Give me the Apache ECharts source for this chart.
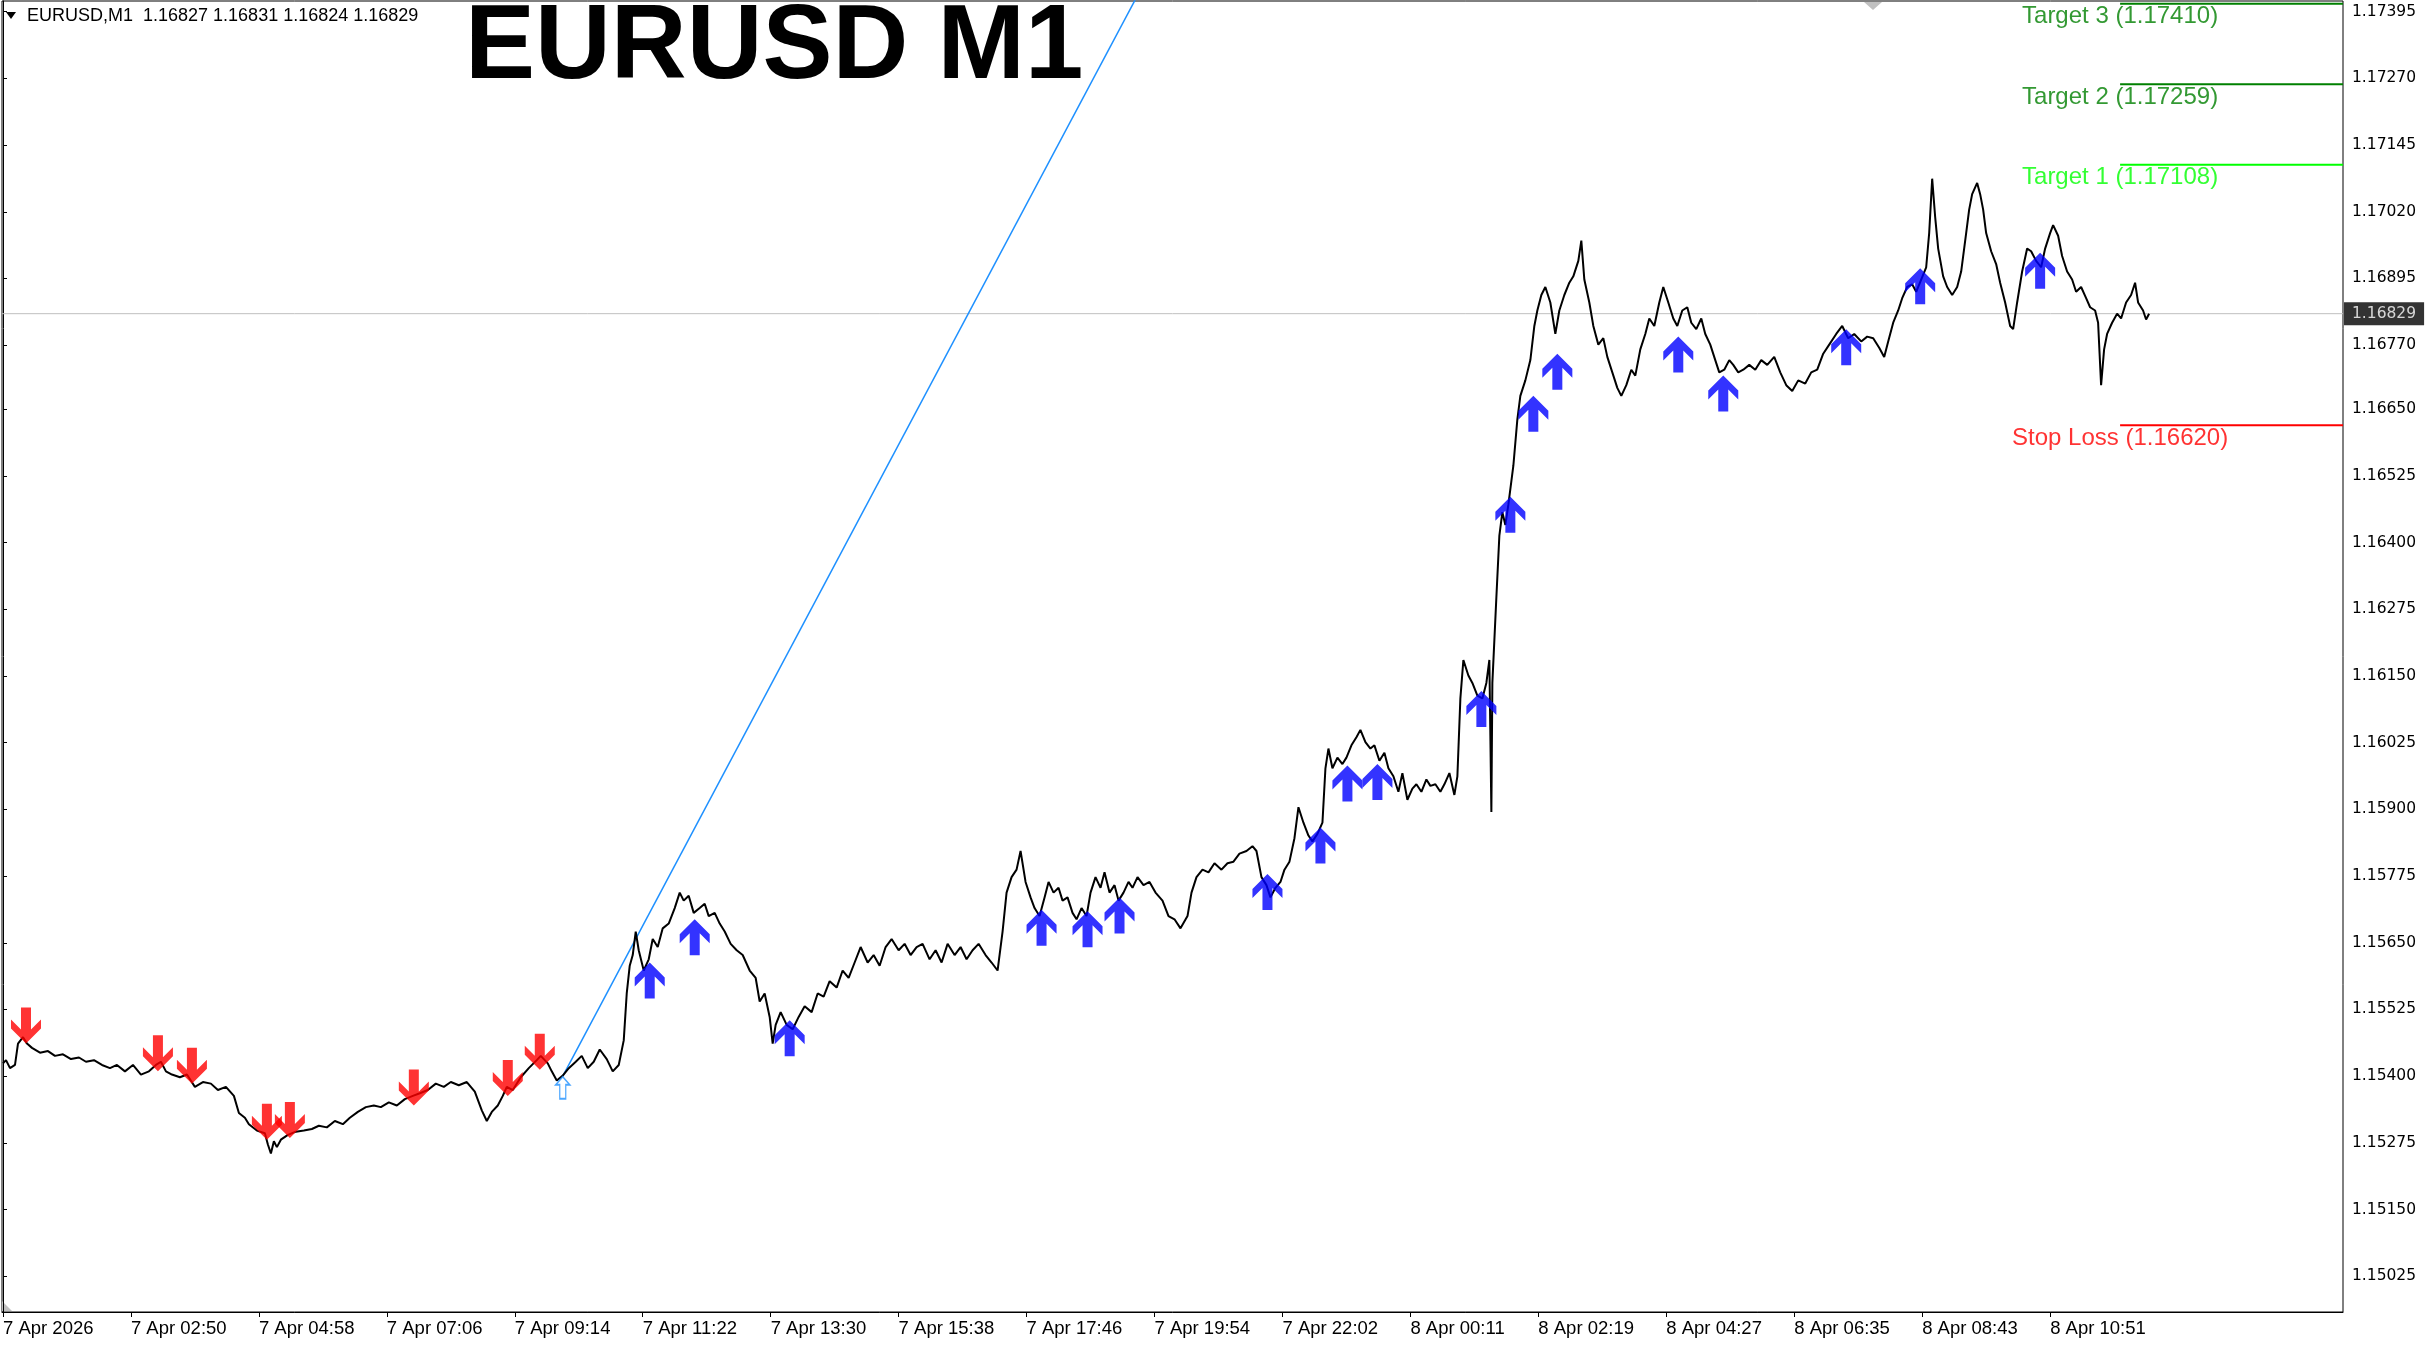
<!DOCTYPE html>
<html><head><meta charset="utf-8">
<script src="https://cdn.jsdelivr.net/npm/echarts@6/dist/echarts.min.js"></script>
<style>html,body{margin:0;padding:0;background:#fff;overflow:hidden}#c{width:2435px;height:1345px}</style>
</head><body><div id="c"></div>
<script>
// ---------- DATA ----------
const symbolName = 'EURUSD';
const timeframe = 'M1';
const headerOHLC = [1.16827, 1.16831, 1.16824, 1.16829];
const lastPrice = 1.16829;

// x axis: bar number (1 bar = 1 minute) and labels at those bars
const xTickBars = [0,128,256,384,512,640,768,896,1024,1152,1280,1408,1536,1664,1792,1920,2048];
const xTickLabels = ['7 Apr 2026','7 Apr 02:50','7 Apr 04:58','7 Apr 07:06','7 Apr 09:14','7 Apr 11:22','7 Apr 13:30','7 Apr 15:38','7 Apr 17:46','7 Apr 19:54','7 Apr 22:02','8 Apr 00:11','8 Apr 02:19','8 Apr 04:27','8 Apr 06:35','8 Apr 08:43','8 Apr 10:51'];
const yTickValues = [1.15025,1.15150,1.15275,1.15400,1.15525,1.15650,1.15775,1.15900,1.16025,1.16150,1.16275,1.16400,1.16525,1.16650,1.16770,1.16895,1.17020,1.17145,1.17270,1.17395];

// price trace: [bar, price]
const priceTrace = [[0,1.15424],[3,1.15430],[7,1.15415],[12,1.15421],[15,1.15461],[20,1.15473],[24,1.15461],[29,1.15453],[37,1.15444],[45,1.15447],[52,1.15438],[60,1.15441],[68,1.15432],[76,1.15435],[83,1.15427],[91,1.15430],[99,1.15421],[107,1.15415],[114,1.15421],[122,1.15409],[130,1.15421],[138,1.15403],[146,1.15409],[153,1.15421],[158,1.15427],[163,1.15409],[169,1.15403],[177,1.15398],[184,1.15403],[192,1.15380],[200,1.15389],[208,1.15386],[215,1.15374],[223,1.15380],[231,1.15363],[236,1.15331],[242,1.15322],[246,1.15310],[254,1.15298],[262,1.15293],[265,1.15272],[268,1.15255],[271,1.15278],[274,1.15267],[278,1.15281],[285,1.15290],[293,1.15296],[301,1.15298],[309,1.15301],[316,1.15307],[324,1.15304],[332,1.15316],[340,1.15310],[347,1.15322],[355,1.15333],[363,1.15342],[371,1.15345],[378,1.15342],[386,1.15351],[394,1.15345],[402,1.15357],[410,1.15363],[417,1.15368],[425,1.15374],[433,1.15386],[441,1.15380],[448,1.15389],[456,1.15383],[464,1.15389],[472,1.15371],[479,1.15336],[484,1.15316],[489,1.15333],[495,1.15345],[500,1.15363],[504,1.15380],[510,1.15374],[518,1.15398],[526,1.15415],[534,1.15430],[538,1.15438],[545,1.15424],[549,1.15409],[554,1.15392],[560,1.15401],[566,1.15415],[573,1.15427],[579,1.15438],[585,1.15415],[591,1.15427],[597,1.15450],[604,1.15432],[610,1.15409],[616,1.15421],[621,1.15467],[624,1.15555],[627,1.15607],[630,1.15627],[633,1.15671],[636,1.15636],[641,1.15598],[646,1.15619],[650,1.15657],[655,1.15642],[660,1.15677],[666,1.15686],[672,1.15715],[677,1.15744],[681,1.15729],[686,1.15738],[691,1.15706],[697,1.15715],[702,1.15723],[706,1.15700],[712,1.15706],[717,1.15686],[722,1.15671],[728,1.15648],[734,1.15636],[740,1.15627],[747,1.15598],[753,1.15584],[757,1.15540],[762,1.15555],[767,1.15511],[770,1.15461],[773,1.15496],[778,1.15520],[784,1.15496],[790,1.15488],[796,1.15511],[802,1.15531],[809,1.15520],[815,1.15555],[821,1.15549],[827,1.15578],[834,1.15566],[840,1.15598],[846,1.15584],[852,1.15613],[858,1.15642],[865,1.15613],[871,1.15627],[877,1.15607],[883,1.15642],[889,1.15657],[896,1.15636],[902,1.15648],[908,1.15627],[914,1.15642],[920,1.15648],[927,1.15619],[933,1.15636],[939,1.15613],[945,1.15648],[952,1.15627],[958,1.15642],[964,1.15619],[970,1.15636],[976,1.15648],[983,1.15627],[989,1.15613],[995,1.15598],[1000,1.15671],[1004,1.15744],[1009,1.15773],[1014,1.15787],[1018,1.15822],[1023,1.15764],[1028,1.15735],[1032,1.15715],[1037,1.15700],[1042,1.15735],[1046,1.15764],[1051,1.15744],[1056,1.15753],[1060,1.15729],[1065,1.15735],[1070,1.15706],[1074,1.15694],[1079,1.15715],[1084,1.15700],[1088,1.15744],[1093,1.15773],[1098,1.15753],[1102,1.15782],[1107,1.15744],[1112,1.15758],[1116,1.15729],[1121,1.15744],[1126,1.15764],[1130,1.15753],[1135,1.15773],[1141,1.15758],[1147,1.15764],[1153,1.15744],[1160,1.15729],[1166,1.15700],[1172,1.15694],[1178,1.15677],[1185,1.15700],[1189,1.15744],[1194,1.15773],[1200,1.15787],[1206,1.15782],[1212,1.15799],[1219,1.15787],[1225,1.15799],[1231,1.15802],[1237,1.15817],[1244,1.15822],[1250,1.15831],[1254,1.15822],[1259,1.15773],[1264,1.15758],[1268,1.15735],[1273,1.15753],[1278,1.15764],[1282,1.15787],[1287,1.15802],[1292,1.15846],[1296,1.15904],[1301,1.15875],[1306,1.15851],[1310,1.15840],[1315,1.15854],[1320,1.15875],[1323,1.15977],[1326,1.16014],[1330,1.15977],[1335,1.15997],[1340,1.15985],[1344,1.15997],[1349,1.16020],[1354,1.16035],[1358,1.16049],[1363,1.16026],[1368,1.16014],[1372,1.16020],[1377,1.15991],[1382,1.16006],[1386,1.15977],[1391,1.15962],[1396,1.15933],[1400,1.15968],[1405,1.15918],[1410,1.15939],[1414,1.15947],[1419,1.15933],[1424,1.15956],[1428,1.15944],[1433,1.15947],[1438,1.15933],[1442,1.15947],[1447,1.15968],[1452,1.15927],[1455,1.15962],[1458,1.16108],[1461,1.16180],[1466,1.16151],[1470,1.16137],[1475,1.16113],[1480,1.16108],[1484,1.16137],[1487,1.16180],[1489,1.15895],[1490,1.16137],[1494,1.16297],[1497,1.16413],[1500,1.16457],[1503,1.16433],[1506,1.16471],[1511,1.16544],[1515,1.16631],[1518,1.16675],[1523,1.16704],[1528,1.16742],[1532,1.16806],[1535,1.16835],[1539,1.16864],[1543,1.16879],[1548,1.16850],[1553,1.16791],[1557,1.16835],[1562,1.16864],[1567,1.16887],[1571,1.16899],[1576,1.16928],[1579,1.16966],[1582,1.16893],[1587,1.16850],[1591,1.16806],[1596,1.16771],[1601,1.16783],[1605,1.16748],[1610,1.16719],[1615,1.16690],[1619,1.16675],[1624,1.16695],[1629,1.16724],[1633,1.16713],[1638,1.16762],[1643,1.16791],[1647,1.16820],[1652,1.16806],[1657,1.16850],[1661,1.16879],[1666,1.16850],[1671,1.16820],[1675,1.16806],[1680,1.16835],[1685,1.16841],[1689,1.16812],[1694,1.16800],[1699,1.16820],[1703,1.16791],[1708,1.16771],[1713,1.16742],[1717,1.16719],[1722,1.16724],[1727,1.16742],[1731,1.16733],[1736,1.16719],[1741,1.16724],[1747,1.16733],[1753,1.16724],[1759,1.16742],[1765,1.16733],[1772,1.16748],[1778,1.16719],[1784,1.16695],[1790,1.16684],[1796,1.16704],[1803,1.16698],[1809,1.16719],[1815,1.16724],[1821,1.16754],[1827,1.16771],[1834,1.16791],[1840,1.16806],[1846,1.16783],[1852,1.16791],[1859,1.16777],[1865,1.16786],[1871,1.16783],[1877,1.16765],[1882,1.16748],[1886,1.16777],[1891,1.16812],[1896,1.16835],[1900,1.16858],[1905,1.16879],[1910,1.16884],[1914,1.16870],[1919,1.16893],[1924,1.16916],[1927,1.16980],[1930,1.17082],[1933,1.17010],[1936,1.16951],[1941,1.16899],[1945,1.16879],[1950,1.16864],[1955,1.16879],[1959,1.16908],[1964,1.16980],[1967,1.17024],[1970,1.17053],[1975,1.17074],[1978,1.17053],[1981,1.17024],[1984,1.16980],[1989,1.16946],[1994,1.16922],[1998,1.16887],[2003,1.16850],[2008,1.16806],[2011,1.16800],[2015,1.16850],[2020,1.16908],[2025,1.16951],[2029,1.16946],[2034,1.16928],[2039,1.16916],[2043,1.16951],[2048,1.16980],[2051,1.16995],[2056,1.16975],[2060,1.16937],[2065,1.16908],[2070,1.16893],[2074,1.16870],[2079,1.16879],[2084,1.16858],[2088,1.16841],[2093,1.16835],[2096,1.16812],[2099,1.16695],[2102,1.16762],[2105,1.16791],[2110,1.16812],[2115,1.16829],[2119,1.16820],[2124,1.16850],[2129,1.16864],[2133,1.16887],[2136,1.16850],[2141,1.16835],[2144,1.16818],[2147,1.16829]];

// signal arrows: [bar, price at arrow tip]
const sellSignals = [[23,1.15461],[155,1.15409],[189,1.15386],[264,1.15281],[287,1.15284],[411,1.15345],[505,1.15363],[537,1.15412]];
const buySignals = [[647,1.15613],[692,1.15694],[787,1.15505],[1039,1.15712],[1085,1.15709],[1117,1.15735],[1265,1.15779],[1318,1.15866],[1345,1.15982],[1375,1.15985],[1479,1.16122],[1508,1.16486],[1531,1.16675],[1555,1.16754],[1676,1.16786],[1721,1.16713],[1844,1.16800],[1918,1.16914],[2038,1.16943]];
const entrySignal = [[560,1.15399]];

// trend line (ray) through two points
const trendLine = [[560,1.15400],[1140,1.17443]];

// trade levels
const levelNames = ['Target 3','Target 2','Target 1','Stop Loss'];
const levelPrices = [1.17410,1.17259,1.17108,1.16620];
const levelStartBar = 2118;
const axisStartBar = -1;
const axisEndBar = 2341;

// ---------- STYLE ----------
const levelColors = ['#008000','#008000','#00ff00','#ff0000'];
const upArrow = 'path://M15,0 L30,15 L30,24 L20,14 L20,36 L10,36 L10,14 L0,24 L0,15 Z';
const downArrow = 'path://M10,0 L20,0 L20,22 L30,12 L30,21 L15,36 L0,21 L0,12 L10,22 Z';
const hollowUp = 'path://M7,0 L14,8 L10,8 L10,22 L4,22 L4,8 L0,8 Z';

const series = [];
series.push({
  type:'line', data:[[axisStartBar,lastPrice],[axisEndBar,lastPrice]], showSymbol:false, z:1, silent:true,
  lineStyle:{color:'#c0c0c0', width:1}
});
series.push({
  type:'scatter', data:[[axisEndBar,lastPrice]], symbolSize:0, z:9, silent:true, clip:false,
  label:{show:true, position:'right', distance:1, formatter: lastPrice.toFixed(5),
    backgroundColor:'#000', color:'#fff', padding:[4,8,3,8],
    fontFamily:'DejaVu Sans', fontSize:15.5}
});
series.push({
  type:'line', data: priceTrace, showSymbol:false, z:5, silent:true,
  lineStyle:{color:'#000', width:2}
});
series.push({
  type:'line', data: trendLine, showSymbol:false, z:4, silent:true, clip:true,
  lineStyle:{color:'#1e90ff', width:1.5}
});
levelPrices.forEach((p,i)=>{
  series.push({
    type:'line', data:[[levelStartBar,p],[axisEndBar,p]], showSymbol:false, z:3, silent:true,
    lineStyle:{color:levelColors[i], width:2}
  });
  series.push({
    type:'scatter', data:[[levelStartBar,p]], symbolSize:0, z:3, silent:true,
    label:{show:true, position:'bottom', distance:1, formatter: levelNames[i]+' ('+p.toFixed(5)+')',
      color:levelColors[i], fontFamily:'Liberation Sans', fontSize:24}
  });
});
series.push({
  type:'scatter', data: sellSignals, symbol: downArrow, symbolSize:[30,36], symbolOffset:[0,-18],
  itemStyle:{color:'#ff0000'}, z:7, silent:true
});
series.push({
  type:'scatter', data: buySignals, symbol: upArrow, symbolSize:[30,36], symbolOffset:[0,18],
  itemStyle:{color:'#0000ff'}, z:7, silent:true
});
series.push({
  type:'scatter', data: entrySignal, symbol: hollowUp, symbolSize:[14,22], symbolOffset:[0,11],
  itemStyle:{color:'#ffffff', borderColor:'#1e90ff', borderWidth:1.5}, z:7, silent:true
});

const chart = echarts.init(document.getElementById('c'));
chart.setOption({
  animation:false,
  backgroundColor:'#fff',
  grid:{left:1, right:92, top:1, bottom:33, show:true, borderColor:'#000', borderWidth:1, backgroundColor:'#fff'},
  xAxis:{
    type:'value', min:axisStartBar, max:axisEndBar, position:'bottom',
    axisLine:{show:true, onZero:false, lineStyle:{color:'#000', width:1}},
    axisTick:{show:true, customValues:xTickBars, length:5, lineStyle:{color:'#000'}},
    axisLabel:{show:true, customValues:xTickBars, align:'left', margin:7, color:'#000',
      fontFamily:'Liberation Sans', fontSize:18.5,
      formatter:(v)=>{const k=xTickBars.indexOf(Math.round(v)); return k>=0?xTickLabels[k]:'';}},
    splitLine:{show:false}
  },
  yAxis:{
    type:'value', position:'right', min:1.14958, max:1.17415, scale:true,
    axisLine:{show:true, lineStyle:{color:'#000', width:1}},
    axisTick:{show:true, customValues:yTickValues, length:4, lineStyle:{color:'#000'}},
    axisLabel:{show:true, customValues:yTickValues, align:'left', margin:9, color:'#000',
      fontFamily:'DejaVu Sans', fontSize:15.5, formatter:(v)=>v.toFixed(5)},
    splitLine:{show:false}
  },
  graphic:[
    {type:'polygon', silent:true, shape:{points:[[6,12],[16,12],[11,19]]}, style:{fill:'#000'}},
    {type:'text', silent:true, style:{text: symbolName+','+timeframe+'  '+headerOHLC.map(v=>v.toFixed(5)).join(' '),
      x:27, y:16, fill:'#000', font:'18px "Liberation Sans"', align:'left', verticalAlign:'middle', textAlign:'left', textVerticalAlign:'middle'}},
    {type:'text', silent:true, style:{text: symbolName+' '+timeframe,
      x:465, y:49, fill:'#000', font:'bold 105px "Liberation Sans"', align:'left', verticalAlign:'middle', textAlign:'left', textVerticalAlign:'middle'}},
    {type:'polygon', silent:true, shape:{points:[[1864,2],[1882,2],[1873,10]]}, style:{fill:'#c0c0c0'}},
    {type:'polygon', silent:true, shape:{points:[[2,1301],[2,1311],[12,1311]]}, style:{fill:'#c0c0c0'}}
  ],
  series: series
});
</script>
</body></html>
